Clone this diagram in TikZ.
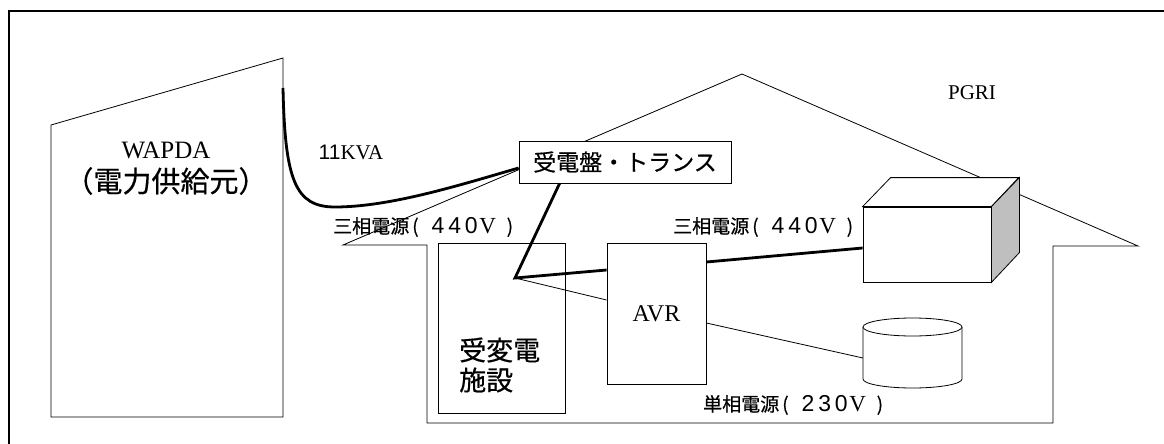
\documentclass[tikz,border=0pt]{standalone}
\usepackage{fontspec}
\setmainfont{Liberation Serif}
\newfontfamily\gothic[FakeBold=0.5]{Noto Sans CJK JP}
\newfontfamily\arialf{Liberation Sans}
\usetikzlibrary{calc}
% digits and the voltage bracket of the supply labels
\newcommand{\dg}[1]{\makebox[16.7pt]{\arialf\fontsize{23}{23}\selectfont #1}}
\newcommand{\volt}[1]{\kern3pt(\hspace{11pt}#1\makebox[16pt]{\rmfamily\fontsize{23}{23}\selectfont V}\hspace{11pt})}
\begin{document}
\begin{tikzpicture}[x=1pt,y=-1pt,
  line/.style={line width=0.8pt, line join=miter},
  cable/.style={line width=2.8pt, line join=miter},
  box/.style={draw, line width=0.8pt, inner sep=0pt},
  jlabel/.style={font=\gothic\fontsize{19}{21}\selectfont, inner sep=0pt}]
\useasboundingbox (0,0) rectangle (1164,444);
\fill[white] (0,0) rectangle (1164,444);
% outer frame
\draw[line width=2pt] (9,444) -- (9,11) -- (1164,11);

% supplier building
\draw[line] (51,125) -- (283,58) -- (283,417) -- (51,417) -- cycle;
\node[font=\fontsize{25}{27}\selectfont, inner sep=0pt] (wapda) at (166,150) {WAPDA};
\node[font=\gothic\fontsize{29}{31}\selectfont, inner sep=0pt] (wapdajp) at (166,181) {（電力供給元）};
\coordinate (feed) at (283,88);

% institute building outline
\draw[line] (742,74) -- (343,245) -- (427,245) -- (427,423) -- (1053,423) -- (1053,246) -- (1138,246) -- cycle;
\node[font=\fontsize{21}{23}\selectfont, inner sep=0pt] (pgri) at (972,93) {PGRI};

% switchboard / transformer
\node[box, fill=white, minimum width=212pt, minimum height=42pt,
      font=\gothic\fontsize{23}{25}\selectfont] (trans) at (625,162) {受電盤・トランス};

% substation room
\node[box, minimum width=127pt, minimum height=170pt] (sub) at (501.5,328) {};
\node[font=\gothic\fontsize{27}{29}\selectfont, inner sep=0pt, anchor=west] (subA) at (459,350) {受変電};
\node[font=\gothic\fontsize{27}{29}\selectfont, inner sep=0pt, anchor=west] (subB) at (459,380) {施設};

% voltage regulator
\node[box, minimum width=99pt, minimum height=141pt, font=\fontsize{24}{26}\selectfont] (avr) at (656.5,313.5) {AVR};

% three-phase load (box)
\node[box, fill=white, minimum width=128pt, minimum height=75pt] (cube) at (927,244.5) {};
\draw[line, fill=white] (cube.north west) -- ++(28,-29) -- ++(128,0) -- (cube.north east) -- cycle;
\draw[line, fill=gray!50] (cube.north east) -- ++(28,-29) -- ++(0,75) -- (cube.south east) -- cycle;

% single-phase load (cylinder)
\draw[line, fill=white] (863,327) -- (863,379) arc[start angle=180, end angle=0, x radius=49.5, y radius=9] -- (962,327);
\draw[line, fill=white] (912.5,327) ellipse [x radius=49.5, y radius=9];
\coordinate (cyl) at (863,358);

% wiring
\coordinate (j) at (515,278);
\draw[cable] (feed) .. controls (285,180) and (295,207) .. (335,207)
             .. controls (390,207) and (460,185) .. ($(trans.west)+(0,6)$);
\draw[cable] ($(trans.south west)+(41,0)$) -- (j) -- ($(avr.west)+(0,-43.5)$);
\draw[cable] ($(avr.east)+(0,-51.5)$) -- ($(cube.west)+(0,3.5)$);
\draw[line] (j) -- ($(avr.west)+(0,-13.5)$);
\draw[line] ($(avr.east)+(0,9.5)$) -- (cyl);

% labels
\node[font=\fontsize{21}{23}\selectfont, inner sep=0pt] (kva) at (351,152) {{\arialf 11}KVA};
\node[jlabel, anchor=west] (v440a) at (333,227) {三相電源\volt{\dg4\dg4\dg0}};
\node[jlabel, anchor=west] (v440b) at (673,227) {三相電源\volt{\dg4\dg4\dg0}};
\node[jlabel, anchor=west] (v230) at (703,405) {単相電源\volt{\dg2\dg3\dg0}};
\end{tikzpicture}
\end{document}
